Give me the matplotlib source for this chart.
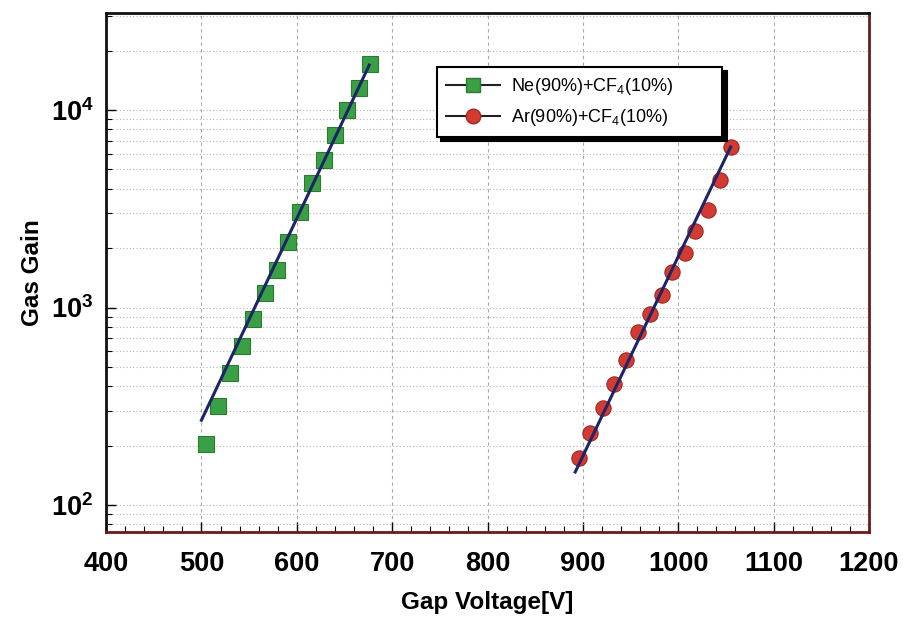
"""Gas gain vs gap voltage for Ne+CF4 and Ar+CF4 mixtures."""

import matplotlib

matplotlib.use("Agg")
import matplotlib.pyplot as plt
from matplotlib.lines import Line2D
from matplotlib.ticker import LogLocator, MultipleLocator, NullFormatter

plt.rcParams["font.family"] = ["Liberation Sans", "DejaVu Sans"]
plt.rcParams["mathtext.fontset"] = "custom"
plt.rcParams["mathtext.rm"] = "Liberation Sans"
plt.rcParams["mathtext.bf"] = "Liberation Sans:bold"

# measured points
ne_voltage = [505, 517, 530, 542, 554, 567, 579, 591, 603, 616, 628, 640, 653, 665, 677]
ne_gain = [204, 317, 466, 638, 875, 1184, 1548, 2147, 3046, 4270, 5580, 7470, 10000, 12900, 17100]

ar_voltage = [896, 908, 921, 933, 945, 958, 970, 983, 994, 1007, 1018, 1031, 1044, 1055]
ar_gain = [173, 232, 310, 410, 542, 752, 927, 1157, 1513, 1889, 2440, 3120, 4430, 6500]

# exponential fits (end points)
ne_fit_voltage = [500, 676]
ne_fit_gain = [269, 16900]
ar_fit_voltage = [892, 1055]
ar_fit_gain = [147, 6500]

labels = [r"Ne(90%)+CF$_4$(10%)", r"Ar(90%)+CF$_4$(10%)"]
yticks = [1e2, 1e3, 1e4]
ytick_labels = [r"$\mathbf{10^{2}}$", r"$\mathbf{10^{3}}$", r"$\mathbf{10^{4}}$"]

FIT_COLOR = "#1c2566"
NE_FACE, NE_EDGE = "#3aa046", "#2b7a30"
AR_FACE, AR_EDGE = "#d33a32", "#9c2a25"


def main() -> None:
    fig = plt.figure(figsize=(9.07, 6.19), dpi=100)
    ax = fig.add_axes([0.117, 0.1405, 0.841, 0.8385])

    ax.plot(ne_voltage, ne_gain, ls="none", marker="s", ms=11.5,
            mfc=NE_FACE, mec=NE_EDGE, mew=0.8, zorder=3)
    ax.plot(ar_voltage, ar_gain, ls="none", marker="o", ms=11,
            mfc=AR_FACE, mec=AR_EDGE, mew=0.8, zorder=3)
    ax.plot(ne_fit_voltage, ne_fit_gain, color=FIT_COLOR, lw=2.2, zorder=4)
    ax.plot(ar_fit_voltage, ar_fit_gain, color=FIT_COLOR, lw=2.2, zorder=4)

    ax.set_yscale("log")
    ax.set_xlim(400, 1200)
    ax.set_ylim(73, 31000)

    ax.xaxis.set_major_locator(MultipleLocator(100))
    ax.xaxis.set_minor_locator(MultipleLocator(20))
    ax.set_yticks(yticks)
    ax.set_yticklabels(ytick_labels)
    ax.yaxis.set_minor_locator(LogLocator(base=10, subs=range(2, 10)))
    ax.yaxis.set_minor_formatter(NullFormatter())

    ax.tick_params(axis="both", which="major", direction="in", length=7,
                   width=1, labelsize=19.5)
    ax.tick_params(axis="x", which="major", pad=14)
    ax.tick_params(axis="y", which="major", pad=9)
    ax.tick_params(axis="both", which="minor", direction="in", length=4, width=0.8)
    for lab in ax.get_xticklabels():
        lab.set_fontweight("bold")

    ax.grid(True, which="major", axis="x", color="#a8a8a8", ls=(0, (3, 3)), lw=0.8)
    ax.grid(True, which="both", axis="y", color="#b5b5b5", ls=(0, (1, 2)), lw=0.8)

    for side in ("left", "top"):
        ax.spines[side].set_color("#111111")
        ax.spines[side].set_linewidth(2)
    for side in ("right", "bottom"):
        ax.spines[side].set_color("#6a1c1c")
        ax.spines[side].set_linewidth(2)

    ax.set_xlabel("Gap Voltage[V]", fontsize=17.5, fontweight="bold", labelpad=10)
    ax.set_ylabel("Gas Gain", fontsize=17.5, fontweight="bold", labelpad=5)

    handles = [
        Line2D([], [], color="#222222", lw=1.5, marker="s", ms=10.5,
               mfc=NE_FACE, mec=NE_EDGE),
        Line2D([], [], color="#222222", lw=1.5, marker="o", ms=10.5,
               mfc=AR_FACE, mec=AR_EDGE),
    ]
    leg = ax.legend(handles, labels, loc="upper left",
                    bbox_to_anchor=(0.434, 0.77, 0.374, 0.126), mode="expand",
                    borderaxespad=0, fontsize=13, handlelength=3.0,
                    handletextpad=0.6, borderpad=0.5, labelspacing=0.55,
                    fancybox=False, edgecolor="black", framealpha=1,
                    shadow={"ox": 3, "oy": -3, "color": "black", "alpha": 1})
    leg.get_frame().set_linewidth(1.5)

    fig.savefig("out.png", dpi=100)
    plt.close(fig)


if __name__ == "__main__":
    main()
